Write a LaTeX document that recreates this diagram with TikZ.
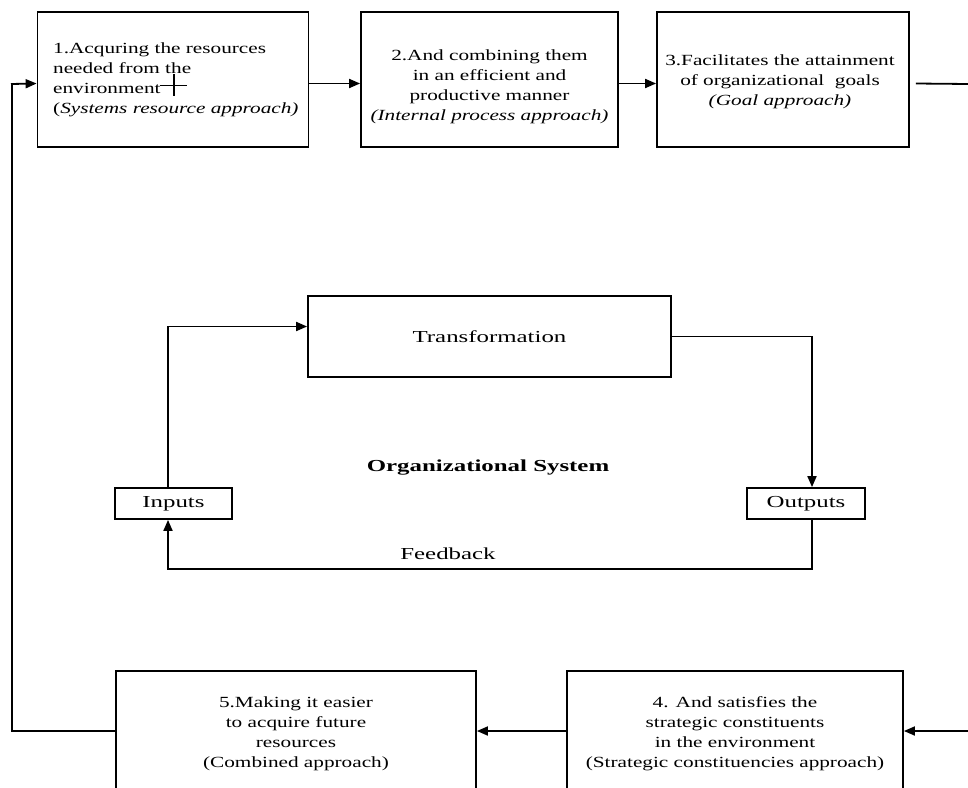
\documentclass[tikz,border=0pt]{standalone}
\usepackage{fontspec}
\setmainfont{Liberation Serif}
\newfontfamily\boxfont[FakeStretch=1.37]{Liberation Serif}
\newfontfamily\midfont[FakeStretch=1.48]{Liberation Serif}
\usetikzlibrary{arrows.meta}
\begin{document}
\begin{tikzpicture}[x=1pt,y=-1pt,
  box/.style={draw, line width=1.8pt, inner sep=0pt},
  boxtext/.style={inner sep=0pt, align=center,
    font=\boxfont\fontsize{15.5}{20}\selectfont},
  midbox/.style={draw, line width=1.8pt, inner sep=0pt,
    font=\midfont\fontsize{16.8}{20}\selectfont},
  midtext/.style={inner sep=0pt, font=\midfont\fontsize{16.8}{20}\selectfont},
  plainline/.style={line width=1.8pt},
  conn/.style={line width=1.8pt, -{Triangle[length=11pt,width=9pt]}}
]
\useasboundingbox (0,0) rectangle (968,787);
\clip (0,0) rectangle (968,787);

% top row
\node[box, minimum width=271, minimum height=135] (b1) at (173,79.5) {};
\node[boxtext, align=left, anchor=west] (t1) at (53,80)
  {1.Acquring the resources\\needed from the\\ environment\\(\textit{Systems resource approach)}};
\node[box, minimum width=257, minimum height=135] (b2) at (489.5,79.5) {};
\node[boxtext] (t2) at (489.5,87)
  {2.And combining them\\in an efficient and\\productive manner\\\textit{(Internal process approach)}};
\node[box, minimum width=252, minimum height=135] (b3) at (783,79.5) {};
\node[boxtext] (t3) at (780,81.5)
  {3.Facilitates the attainment\\of organizational\ \ goals\\\textit{(Goal approach)}};

% bottom row
\node[box, minimum width=336, minimum height=120] (b4) at (735,731) {};
\node[boxtext] (t4) at (735,734)
  {4. And satisfies the\\strategic constituents\\in the environment\\(Strategic constituencies approach)};
\node[box, minimum width=360, minimum height=120] (b5) at (296,731) {};
\node[boxtext] (t5) at (296,734)
  {5.Making it easier\\to acquire future\\resources\\(Combined approach)};

% middle system
\node[midbox, minimum width=363, minimum height=81] (tr) at (489.5,336.5) {Transformation};
\node[midbox, minimum width=117, minimum height=31] (in) at (173.5,503.5) {Inputs};
\node[midbox, minimum width=118, minimum height=31] (out) at (806,503.5) {Outputs};
\node[midtext, font=\midfont\fontsize{16.8}{20}\selectfont\bfseries] (title) at (488,468) {Organizational System};
\node[midtext] (fb) at (448,554) {Feedback};

% coordinates
\coordinate (R1) at (968,84);
\coordinate (R2) at (968,731);
\coordinate (L1) at (12,84);
\coordinate (L2) at (12,731);
\coordinate (FB) at (812,569);

% connectors
\draw[conn] ([yshift=-4pt]b1.east) -- ([yshift=-4pt]b2.west);
\draw[conn] ([yshift=-4pt]b2.east) -- ([yshift=-4pt]b3.west);
\draw[plainline] ([shift={(6pt,-4pt)}]b3.east) -- (R1);
\draw[conn] (R2) -- (b4.east);
\draw[conn] (b4.west) -- (b5.east);
\draw[line width=2.4pt] (b5.west) -- (L2) -- (L1);
\draw[conn] ([xshift=-1pt]L1) -- ([yshift=-4pt]b1.west);

\draw[conn] ([xshift=-5.5pt]in.north) |- ([yshift=10pt]tr.west);
\draw[conn] (tr.east) -| ([xshift=6pt]out.north);
\draw[conn] ([xshift=6pt]out.south) -- (FB) -| ([xshift=-5.5pt]in.south);

% cursor mark
\draw[line width=1.4pt] (160,85.5) -- (187,85.5) (174,74) -- (174,96);
\end{tikzpicture}
\end{document}
